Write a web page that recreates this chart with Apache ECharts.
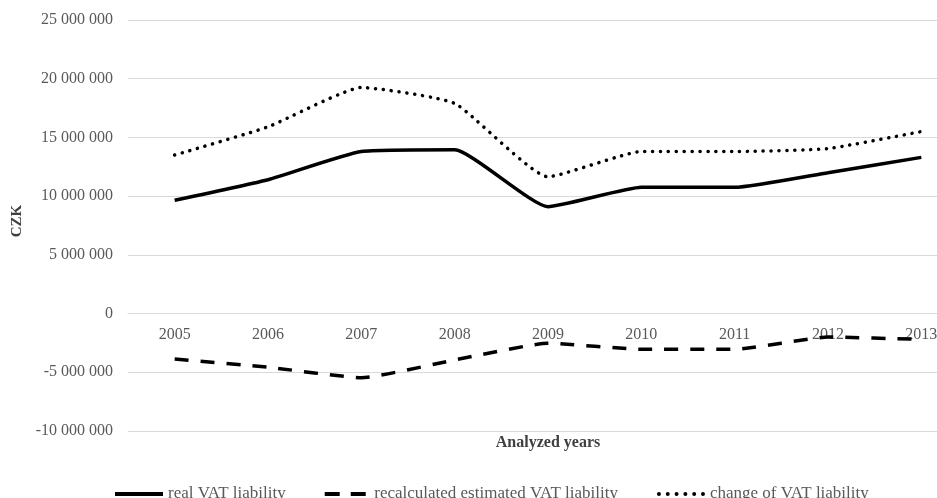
<!doctype html>
<html>
<head>
    <title>VAT liability</title>
    <script src="https://cdn.jsdelivr.net/npm/echarts@6/dist/echarts.min.js"></script>
</head>
<style>
    html, body { margin: 0; padding: 0; background: #fff; overflow: hidden; }
    /* plot area runs past the right edge of the window, like the cropped original */
    #chart { width: 968px; height: 498px; }
</style>
<body>
<div id="chart"></div>
<script>
  var years = ['2005', '2006', '2007', '2008', '2009', '2010', '2011', '2012', '2013'];
  var realVat = [9650000, 11400000, 13800000, 13950000, 9100000, 10750000, 10750000, 12000000, 13300000];
  var recalcVat = [-3870000, -4570000, -5460000, -3950000, -2530000, -3040000, -3040000, -2000000, -2200000];
  var changeVat = [13500000, 15900000, 19250000, 17900000, 11650000, 13800000, 13800000, 14050000, 15500000];

  var yMin = -10000000, yMax = 25000000, yStep = 5000000;
  var serif = '"Liberation Serif", "DejaVu Serif", serif';

  function fmt(v) {
    var s = Math.abs(v).toString().replace(/\B(?=(\d{3})+(?!\d))/g, ' ');
    return (v < 0 ? '-' : '') + s;
  }

  // legend icons drawn as paths so the dash styles show
  var iconSolid = 'path://M0,0h48v4h-48z';
  var iconDash = 'path://M0,0h15v4h-15z M26,0h15v4h-15z';
  var iconDot = 'path://M0,2a1.8,1.8 0 1,0 3.6,0a1.8,1.8 0 1,0 -3.6,0z' +
    'M8,2a1.8,1.8 0 1,0 3.6,0a1.8,1.8 0 1,0 -3.6,0z' +
    'M16,2a1.8,1.8 0 1,0 3.6,0a1.8,1.8 0 1,0 -3.6,0z' +
    'M24,2a1.8,1.8 0 1,0 3.6,0a1.8,1.8 0 1,0 -3.6,0z' +
    'M32,2a1.8,1.8 0 1,0 3.6,0a1.8,1.8 0 1,0 -3.6,0z' +
    'M40,2a1.8,1.8 0 1,0 3.6,0a1.8,1.8 0 1,0 -3.6,0z';

  var myChart = echarts.init(document.getElementById('chart'));

  var plotTop = 20, plotBottom = 431;
  var zeroY = plotTop + (plotBottom - plotTop) * yMax / (yMax - yMin);

  myChart.setOption({
    backgroundColor: '#fff',
    animation: false,
    textStyle: { fontFamily: serif },
    grid: { left: 128, right: 0, top: plotTop, bottom: 498 - plotBottom },
    legend: {
      left: 115,
      top: 481,
      padding: 0,
      itemWidth: 48,
      itemHeight: 4,
      itemGap: 39,
      itemStyle: { color: '#000', opacity: 1 },
      textStyle: { fontFamily: serif, fontSize: 17, color: '#595959' },
      data: [
        { name: 'real VAT liability', icon: iconSolid },
        { name: 'recalculated estimated VAT liability', icon: iconDash },
        { name: 'change of VAT liability', icon: iconDot }
      ]
    },
    graphic: [
      {
        type: 'text', x: 17, y: 221, rotation: Math.PI / 2,
        style: { text: 'CZK', font: 'bold 15px ' + serif, fill: '#404040', align: 'center', verticalAlign: 'middle' }
      },
      {
        type: 'text', x: 548, y: 443,
        style: { text: 'Analyzed years', font: 'bold 16px ' + serif, fill: '#404040', align: 'center', verticalAlign: 'middle' }
      }
    ],
    xAxis: {
      type: 'category',
      data: years,
      boundaryGap: true,
      offset: -(plotBottom - zeroY),
      axisLine: { onZero: false, lineStyle: { color: '#d9d9d9', width: 1 } },
      axisTick: { show: false },
      axisLabel: { color: '#595959', fontSize: 16, margin: 9 }
    },
    yAxis: {
      type: 'value',
      min: yMin, max: yMax, interval: yStep,
      axisLine: { show: false },
      axisTick: { show: false },
      splitLine: { lineStyle: { color: '#d9d9d9', width: 1 } },
      axisLabel: { color: '#595959', fontSize: 16, margin: 15, formatter: fmt }
    },
    series: [
      {
        name: 'real VAT liability', type: 'line', data: realVat,
        symbol: 'none', smooth: 0.15,
        lineStyle: { color: '#000', width: 3.5 },
        itemStyle: { color: '#000' }
      },
      {
        name: 'recalculated estimated VAT liability', type: 'line', data: recalcVat,
        symbol: 'none', smooth: 0.15,
        lineStyle: { color: '#000', width: 3.5, type: [14, 12] },
        itemStyle: { color: '#000' }
      },
      {
        name: 'change of VAT liability', type: 'line', data: changeVat,
        symbol: 'none', smooth: 0.15,
        lineStyle: { color: '#000', width: 3.5, type: [0.1, 7.8], cap: 'round' },
        itemStyle: { color: '#000' }
      }
    ]
  });
</script>
</body>
</html>
